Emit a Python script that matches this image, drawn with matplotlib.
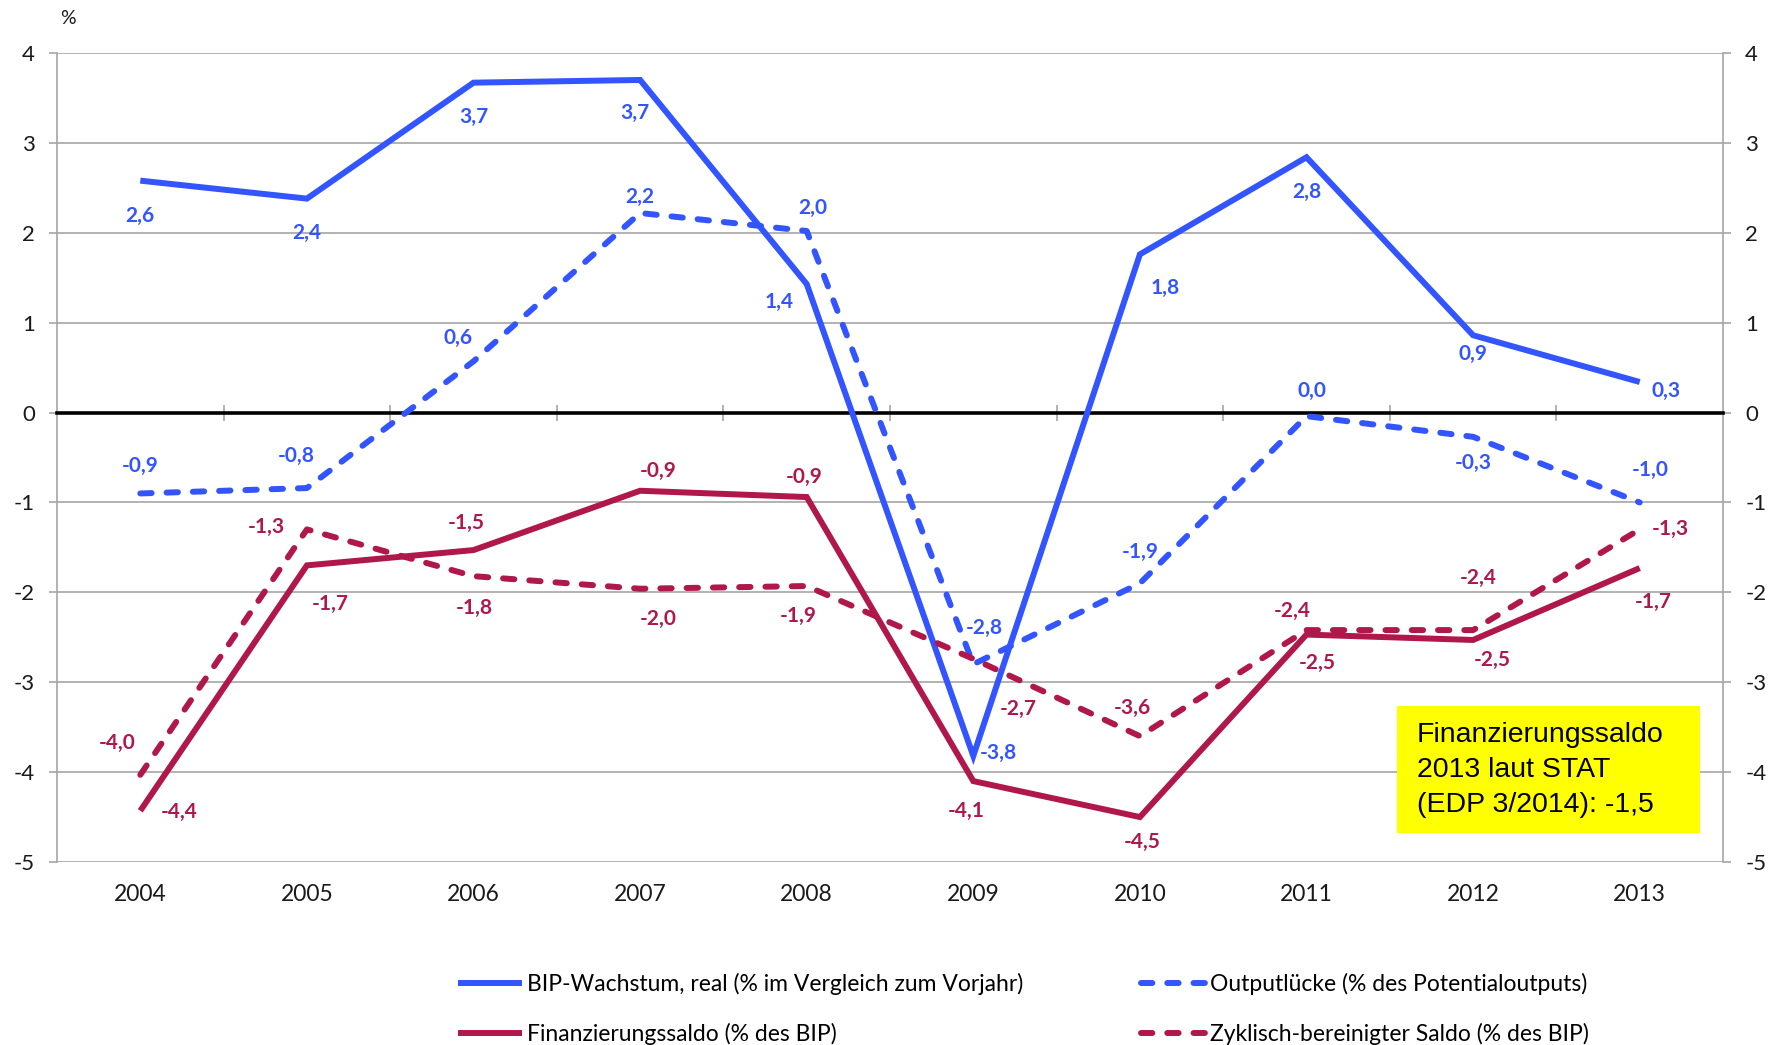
import matplotlib
matplotlib.use("Agg")
import matplotlib.pyplot as plt
from matplotlib.patches import Rectangle

plt.rcParams['font.family'] = ['Lato', 'DejaVu Sans']
plt.rcParams['axes.unicode_minus'] = False

# data
years = ["2004", "2005", "2006", "2007", "2008", "2009", "2010", "2011", "2012", "2013"]
bip_wachstum = [2.58, 2.38, 3.67, 3.70, 1.43, -3.82, 1.76, 2.84, 0.86, 0.34]
outputluecke = [-0.90, -0.84, 0.57, 2.22, 2.02, -2.80, -1.90, -0.04, -0.27, -1.00]
finanz_saldo = [-4.43, -1.70, -1.53, -0.87, -0.94, -4.10, -4.50, -2.47, -2.53, -1.73]
zykl_saldo = [-4.03, -1.30, -1.82, -1.96, -1.93, -2.74, -3.60, -2.42, -2.42, -1.30]

names = ["BIP-Wachstum, real (% im Vergleich zum Vorjahr)",
         "Outputlücke (% des Potentialoutputs)",
         "Finanzierungssaldo (% des BIP)",
         "Zyklisch-bereinigter Saldo (% des BIP)"]

BLUE = "#3355FF"
RED = "#B0184C"

# label offsets in pixels (dx, dy) for each data label
off_bip = [(0, -35), (0, -34), (0, -34), (-5, -33), (-28, -18), (25, 3), (25, -34), (0, -35), (0, -19), (26, -9)]
off_out = [(0, 27), (-11, 32), (-15, 23), (0, 16), (6, 23), (11, 36), (0, 31), (5, 25), (0, -26), (10, 32)]
off_fin = [(39, -1), (23, -39), (-7, 27), (18, 20), (-3, 20), (-7, -30), (2, -25), (11, -28), (19, -20), (14, -34)]
off_zyk = [(-23, 32), (-41, 2), (1, -32), (18, -30), (-8, -30), (45, -50), (-8, 28), (-14, 19), (5, 52), (31, 0)]


def fmt(v):
    return f"{round(v, 1) + 0.0:.1f}".replace(".", ",")


fig = plt.figure(figsize=(17.8, 10.45), dpi=100)
ax = fig.add_axes([57 / 1780, 1 - 862 / 1045, 1666 / 1780, 809 / 1045])

x = list(range(len(years)))
lw = 4.3
series = [
    (bip_wachstum, BLUE, "-", off_bip, names[0]),
    (outputluecke, BLUE, "--", off_out, names[1]),
    (finanz_saldo, RED, "-", off_fin, names[2]),
    (zykl_saldo, RED, "--", off_zyk, names[3]),
]
handles = []
for vals, col, ls, offs, name in series:
    if ls == "--":
        line, = ax.plot(x, vals, color=col, lw=lw, zorder=3, label=name,
                        dashes=(1.9, 2.5), dash_capstyle="round", solid_joinstyle="miter")
    else:
        line, = ax.plot(x, vals, color=col, lw=lw, zorder=3, label=name,
                        solid_capstyle="butt", solid_joinstyle="miter")
    handles.append(line)
    for xi, v, (dx, dy) in zip(x, vals, offs):
        ax.annotate(fmt(v), (xi, v), xytext=(dx, dy), textcoords="offset pixels",
                    ha="center", va="center", color=col, fontsize=15,
                    fontweight="bold", zorder=4)

# axes styling
ax.set_xlim(-0.5, 9.5)
ax.set_ylim(-5, 4)
ax.set_yticks(range(-5, 5))
ax.yaxis.grid(True, color="#A6A6A6", lw=1.2)
ax.set_axisbelow(True)
ax.spines["top"].set_visible(False)
for s in ("left", "right"):
    ax.spines[s].set_color("#A6A6A6")
    ax.spines[s].set_linewidth(1.2)
ax.spines["bottom"].set_position(("data", 0))
ax.spines["bottom"].set_color("black")
ax.spines["bottom"].set_linewidth(2.6)
ax.spines["bottom"].set_zorder(2.5)

ax.set_xticks([i + 0.5 for i in range(9)])
ax.set_xticklabels([])
ax.tick_params(axis="x", direction="inout", length=12, width=1.2, color="#A6A6A6")
ax.tick_params(axis="y", left=True, right=True, labelleft=True, labelright=True,
               direction="out", length=6, width=1.2, color="#A6A6A6",
               labelsize=16, pad=10, labelcolor="#1A1A1A")

sec = ax.secondary_xaxis(0)
sec.set_xticks(x)
sec.set_xticklabels(years)
sec.tick_params(length=0, pad=16, labelsize=16.5, labelcolor="#1A1A1A")
sec.spines["bottom"].set_visible(False)

fig.text(68 / 1780, 1 - 18 / 1045, "%", ha="center", va="center", fontsize=14, color="#1A1A1A")

# legends in two columns
leg_kw = dict(frameon=False, fontsize=16.5, handlelength=2.8, handletextpad=0.2,
              labelspacing=1.2, borderpad=0, borderaxespad=0, loc="upper left")
leg1 = fig.legend([handles[0], handles[2]], [names[0], names[2]],
                  bbox_to_anchor=(458 / 1780, 1 - 973 / 1045), **leg_kw)
leg2 = fig.legend([handles[1], handles[3]], [names[1], names[3]],
                  bbox_to_anchor=(1141 / 1780, 1 - 973 / 1045), **leg_kw)

# yellow note box
fig.patches.append(Rectangle((1397 / 1780, 1 - 833 / 1045), 303 / 1780, 127 / 1045,
                             transform=fig.transFigure, facecolor="#FFFF00",
                             edgecolor="none", zorder=5))
fig.text(1417 / 1780, 1 - 722 / 1045,
         "Finanzierungssaldo\n2013 laut STAT\n(EDP 3/2014): -1,5",
         ha="left", va="top", fontsize=20.5, family=["Liberation Sans", "DejaVu Sans"],
         linespacing=1.45, color="black", zorder=6)

fig.savefig("out.png", dpi=100)
